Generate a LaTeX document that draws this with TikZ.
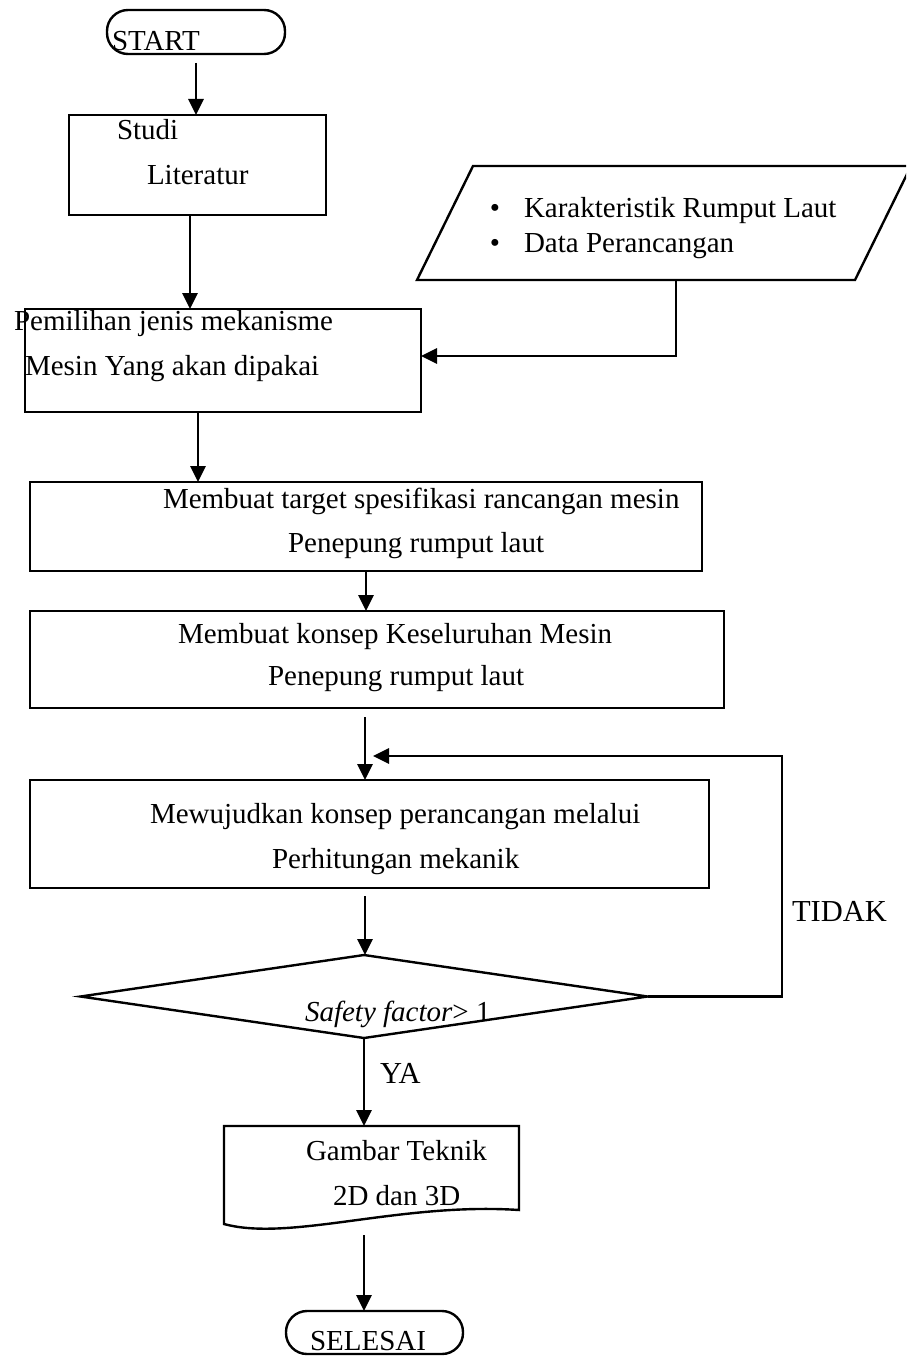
\documentclass[tikz,border=0pt]{standalone}
\usepackage{fontspec}
\setmainfont{Liberation Serif}
\usetikzlibrary{arrows.meta,shapes.geometric}
\begin{document}
\begin{tikzpicture}[x=1pt,y=-1pt,
  shapebox/.style={draw, line width=2.4pt, inner sep=0pt, outer sep=0pt, rectangle},
  term/.style={shapebox, rounded corners=21pt},
  txt/.style={anchor=base west, inner sep=0pt, outer sep=0pt, font=\fontsize{29}{34}\selectfont},
  bigtxt/.style={txt, font=\fontsize{30.5}{36}\selectfont},
  arr/.style={line width=2.8pt, -{Triangle[length=16pt,width=15pt]}}]
\useasboundingbox (0,0) rectangle (906,1356);
\fill[white] (0,0) rectangle (906,1356);
\clip (0,0) rectangle (906,1356);

% shapes
\node[term, minimum width=178pt, minimum height=44pt] (start) at (196,32) {};
\node[shapebox, minimum width=257pt, minimum height=100pt] (studi) at (197.5,165) {};
\node[shapebox, minimum width=396pt, minimum height=103pt] (pilih) at (223,360.5) {};
\draw[line width=2.4pt] (473,166) -- (911,166) -- (855,280) -- (417,280) -- cycle;
\coordinate (inbot) at (676,280);
\node[shapebox, minimum width=672pt, minimum height=89pt] (target) at (366,526.5) {};
\node[shapebox, minimum width=694pt, minimum height=97pt] (konsep) at (377,659.5) {};
\node[shapebox, minimum width=679pt, minimum height=108pt] (wujud) at (369.5,834) {};
\node[draw, line width=2.4pt, diamond, inner sep=0pt, outer sep=0pt, minimum width=567pt, minimum height=83pt] (dec) at (364,996.5) {};
\draw[line width=2.4pt] (224,1126) -- (519,1126) -- (519,1210)
  .. controls (400,1202) and (290,1242) .. (224,1224) -- cycle;
\coordinate (doctop) at (364,1126);
\coordinate (docbot) at (364,1235);
\node[term, minimum width=177pt, minimum height=43pt] (end) at (374.5,1332.5) {};
\coordinate (loopc) at (782,756);
\coordinate (loopend) at (373,756);

% texts
\node[txt] (tstart) at (112,51) {START};
\node[txt] (tstudi1) at (117,140) {Studi};
\node[txt] (tstudi2) at (147,185) {Literatur};
\node[txt] (tpilih1) at (14,330) {Pemilihan jenis mekanisme};
\node[txt] (tpilih2) at (25,375) {Mesin Yang akan dipakai};
\node[txt, anchor=base] (b1) at (495,218) {\textbullet};
\node[txt] (tin1) at (524,218) {Karakteristik Rumput Laut};
\node[txt, anchor=base] (b2) at (495,253) {\textbullet};
\node[txt] (tin2) at (524,253) {Data Perancangan};
\node[txt] (ttarget1) at (163,508) {Membuat target spesifikasi rancangan mesin};
\node[txt] (ttarget2) at (288,552) {Penepung rumput laut};
\node[txt] (tkonsep1) at (178,643) {Membuat konsep Keseluruhan Mesin};
\node[txt] (tkonsep2) at (268,685) {Penepung rumput laut};
\node[txt] (twujud1) at (150,823) {Mewujudkan konsep perancangan melalui};
\node[txt] (twujud2) at (272,868) {Perhitungan mekanik};
\node[txt] (tdec) at (305,1021) {\textit{Safety factor}> 1};
\node[bigtxt] (ttidak) at (792,921) {TIDAK};
\node[bigtxt] (tya) at (380,1083) {YA};
\node[txt] (tdoc1) at (306,1160) {Gambar Teknik};
\node[txt] (tdoc2) at (333,1205) {2D dan 3D};
\node[txt] (tend) at (310,1350) {SELESAI};

% connectors
\draw[arr] ([yshift=-9pt]start.south) -- (start.south |- studi.north);
\draw[arr] ([xshift=-7.5pt]studi.south) -- ([xshift=-7.5pt]studi.south |- pilih.north);
\draw[arr] ([xshift=-25pt]pilih.south) -- ([xshift=-25pt]pilih.south |- target.north);
\draw[arr] (inbot) |- ([yshift=4.5pt]pilih.east);
\draw[arr] (target.south) -- (target.south |- konsep.north);
\draw[arr] ([xshift=-12pt,yshift=-9pt]konsep.south) -- ([xshift=-12pt]konsep.south |- wujud.north);
\draw[arr] ([xshift=-4.5pt,yshift=-8pt]wujud.south) -- ([xshift=-4.5pt]wujud.south |- dec.north);
\draw[arr] (dec.east) -| (loopc) -- (loopend);
\draw[arr] (dec.south) -- (doctop);
\draw[arr] (docbot) -- (docbot |- end.north);
\end{tikzpicture}
\end{document}
